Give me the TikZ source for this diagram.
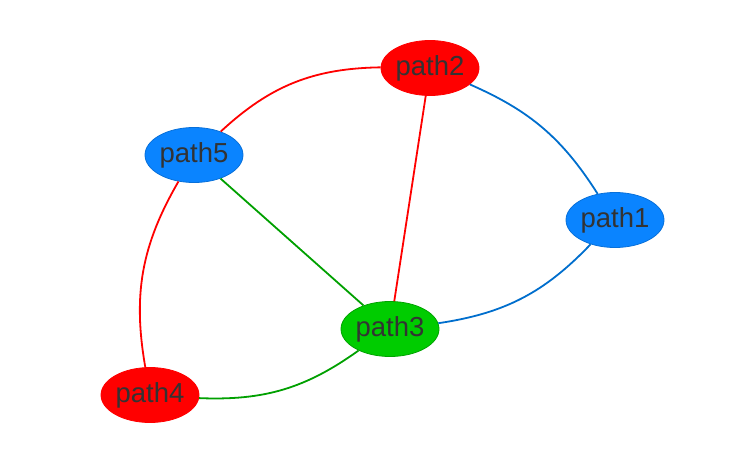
\documentclass[tikz,border=0pt]{standalone}
\usepackage{fontspec}
\setmainfont{Liberation Sans}
\usepackage{xcolor}
\usetikzlibrary{shapes.geometric}

\definecolor{nodeblue}{RGB}{10,132,255}
\definecolor{nodered}{RGB}{255,0,0}
\definecolor{nodegreen}{RGB}{0,204,0}
\definecolor{edgeblue}{RGB}{0,110,205}
\definecolor{edgered}{RGB}{255,0,0}
\definecolor{edgegreen}{RGB}{0,160,0}
\definecolor{labelgray}{RGB}{51,51,51}

\begin{document}
\begin{tikzpicture}[
    x=1pt, y=-1pt,
    vertex/.style={ellipse, minimum width=98pt, minimum height=55pt, inner sep=0pt,
        text=labelgray, font=\fontsize{27.5}{30}\selectfont},
    bluevertex/.style={vertex, fill=nodeblue, draw=nodeblue!85!black, line width=0.8pt},
    redvertex/.style={vertex, fill=nodered, draw=nodered, line width=0.8pt},
    greenvertex/.style={vertex, fill=nodegreen, draw=nodegreen!80!black, line width=0.8pt},
    link/.style={line width=1.8pt},
    bluelink/.style={link, edgeblue},
    redlink/.style={link, edgered},
    greenlink/.style={link, edgegreen}
]
\useasboundingbox (0,0) rectangle (749,471);

% Vertices
\node[redvertex] (path2) at (430,68) {path2};
\node[bluevertex] (path5) at (194,155) {path5};
\node[bluevertex] (path1) at (615,220) {path1};
\node[greenvertex] (path3) at (390,329) {path3};
\node[redvertex] (path4) at (150,395) {path4};

% Links
\draw[bluelink] (path2) to[bend left=17] (path1);
\draw[bluelink] (path1) to[bend left=19] (path3);
\draw[redlink] (path2) to[bend right=21] (path5);
\draw[redlink] (path2) -- (path3);
\draw[redlink] (path5) to[bend right=20] (path4);
\draw[greenlink] (path5) -- (path3);
\draw[greenlink] (path4) to[bend right=19] (path3);

\end{tikzpicture}
\end{document}
